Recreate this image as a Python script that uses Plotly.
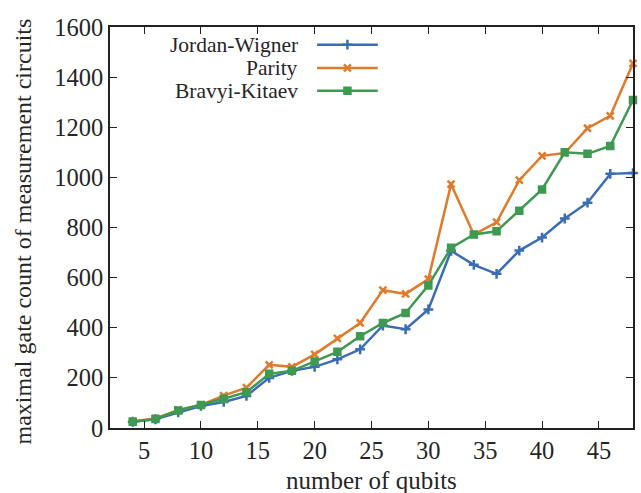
import plotly.graph_objects as go

qubits = [4, 6, 8, 10, 12, 14, 16, 18, 20, 22, 24, 26, 28, 30, 32, 34, 36, 38, 40, 42, 44, 46, 48]
jordan_wigner = [25, 35, 62, 88, 104, 128, 200, 228, 244, 274, 314, 409, 394, 473, 707, 651, 615, 708, 760, 836, 899, 1014, 1017]
parity = [27, 38, 72, 92, 129, 161, 252, 244, 294, 358, 419, 550, 535, 594, 973, 772, 821, 989, 1086, 1097, 1196, 1245, 1455]
bravyi_kitaev = [25, 36, 70, 92, 117, 143, 216, 228, 265, 304, 366, 419, 459, 569, 719, 772, 785, 867, 952, 1100, 1094, 1125, 1309]

series_names = ["Jordan-Wigner", "Parity", "Bravyi-Kitaev"]
series_values = [jordan_wigner, parity, bravyi_kitaev]
colors = ["#3b6db5", "#e07b2b", "#3d9a50"]
symbols = ["cross-thin-open", "x-thin-open", "square-x"]
sizes = [7, 7, 6]

x_ticks = [5, 10, 15, 20, 25, 30, 35, 40, 45]
y_ticks = [0, 200, 400, 600, 800, 1000, 1200, 1400, 1600]

FONT = "Liberation Serif"
TXT = "#262626"

fig = go.Figure()
for name, vals, c, s, sz in zip(series_names, series_values, colors, symbols, sizes):
    fig.add_trace(go.Scatter(
        x=qubits, y=vals, mode="lines+markers", name=name,
        line=dict(color=c, width=2.5),
        marker=dict(symbol=s, size=sz, color=c, line=dict(color=c, width=2.5)),
        showlegend=False, cliponaxis=False,
    ))

# gnuplot-style legend (text left, sample to the right) on a hidden overlay axis
leg_y = [0.956, 0.898, 0.841]
for name, c, s, sz, yy in zip(series_names, colors, symbols, sizes, leg_y):
    fig.add_trace(go.Scatter(
        x=[0.396, 0.512], y=[yy, yy], mode="lines", xaxis="x2", yaxis="y2",
        line=dict(color=c, width=2.5), showlegend=False, hoverinfo="skip"))
    fig.add_trace(go.Scatter(
        x=[0.454], y=[yy], mode="markers", xaxis="x2", yaxis="y2",
        marker=dict(symbol=s, size=sz, color=c, line=dict(color=c, width=2.5)),
        showlegend=False, hoverinfo="skip"))
    fig.add_annotation(x=0.363, y=yy, xref="x2", yref="y2", text=name,
                       showarrow=False, xanchor="right", yanchor="middle",
                       font=dict(family=FONT, size=21.5, color=TXT))

# axis titles
fig.add_annotation(x=0.5, y=0, xref="paper", yref="paper", text="number of qubits",
                   showarrow=False, xanchor="center", yanchor="middle", yshift=-52,
                   font=dict(family=FONT, size=25, color=TXT))
fig.add_annotation(x=0, y=0.5, xref="paper", yref="paper",
                   text="maximal gate count of measurement circuits",
                   showarrow=False, textangle=-90, xanchor="center", yanchor="middle",
                   xshift=-88, yshift=-4, font=dict(family=FONT, size=24, color=TXT))

axis_common = dict(ticks="inside", ticklen=7, tickcolor="#222", tickwidth=1.3,
                   showline=True, linecolor="#222", linewidth=1.6, mirror="allticks",
                   showgrid=False, zeroline=False, automargin=False,
                   tickfont=dict(size=24.5, family=FONT, color=TXT))

fig.update_layout(
    width=641, height=493,
    margin=dict(l=110, r=8, t=27, b=65),
    paper_bgcolor="white", plot_bgcolor="white",
    font=dict(family=FONT, size=20, color=TXT),
    xaxis=dict(range=[2, 48], tickvals=x_ticks, **axis_common),
    yaxis=dict(range=[0, 1600], tickvals=y_ticks, **axis_common),
    xaxis2=dict(range=[0, 1], overlaying="x", visible=False, domain=[0, 1]),
    yaxis2=dict(range=[0, 1], overlaying="y", visible=False, domain=[0, 1]),
)

fig.write_html("out.html", config={"displayModeBar": False},
               post_script="document.body.style.margin='0';")
